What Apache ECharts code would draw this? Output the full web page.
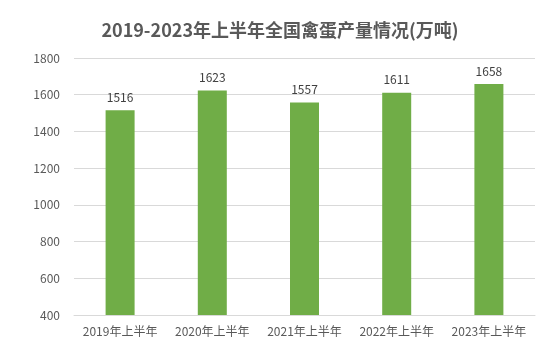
<!DOCTYPE html>
<html><head><meta charset="utf-8">
<script src="https://cdn.jsdelivr.net/npm/echarts@6/dist/echarts.min.js"></script>
<style>html,body{margin:0;padding:0;background:#fff}#c{width:560px;height:352px}</style>
</head><body><div id="c"></div>
<script>
const categories = ['2019年上半年','2020年上半年','2021年上半年','2022年上半年','2023年上半年'];
const values = [1516, 1623, 1557, 1611, 1658];
const titleText = '2019-2023年上半年全国禽蛋产量情况(万吨)';
const font = '"Microsoft YaHei","Noto Sans CJK SC","Noto Sans",sans-serif';
const chart = echarts.init(document.getElementById('c'));
chart.setOption({
  animation: false,
  title: {text: titleText, left: 'center', top: 16,
    textStyle: {fontFamily: font, fontSize: 18, fontWeight: 'bold', color: '#595959'}},
  grid: {left: 74, right: 25, top: 58, bottom: 37},
  xAxis: {type: 'category', data: categories,
    axisLine: {lineStyle: {color: '#d9d9d9'}}, axisTick: {show: false},
    axisLabel: {interval: 0, fontFamily: font, fontSize: 12, color: '#595959', margin: 10}},
  yAxis: {type: 'value', min: 400, max: 1800, interval: 200,
    axisLine: {show: false}, axisTick: {show: false},
    splitLine: {lineStyle: {color: '#d9d9d9'}},
    axisLabel: {formatter: v => String(v), fontFamily: font, fontSize: 12, color: '#595959', margin: 14}},
  series: [{type: 'bar', data: values, barWidth: 29,
    itemStyle: {color: '#70AD47'},
    label: {show: true, position: 'top', distance: 7, fontFamily: font, fontSize: 12, color: '#404040'}}]
});
</script></body></html>
